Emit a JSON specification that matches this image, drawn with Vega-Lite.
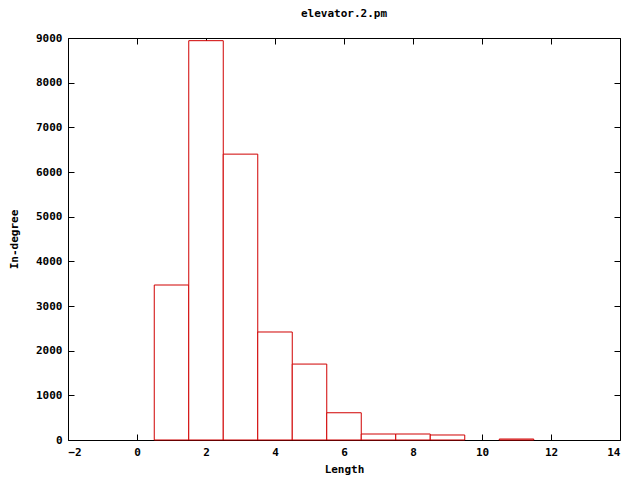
{
  "$schema": "https://vega.github.io/schema/vega-lite/v6.json",
  "width": 552,
  "height": 402,
  "autosize": {"type": "none"},
  "padding": {"left": 68, "top": 38, "right": 20, "bottom": 40},
  "background": "white",
  "title": {"text": "elevator.2.pm", "font": "DejaVu Sans Mono", "fontSize": 11, "fontWeight": "bold", "color": "black", "offset": 13, "anchor": "middle"},
  "config": {
    "view": {"stroke": "black", "strokeWidth": 1},
    "axis": {"labelFont": "DejaVu Sans Mono", "labelFontSize": 11, "labelFontWeight": "bold", "labelColor": "black", "titleFont": "DejaVu Sans Mono", "titleFontSize": 11, "titleFontWeight": "bold", "titleColor": "black", "grid": false, "domain": false, "tickColor": "black", "tickSize": -6, "format": "d"}
  },
  "data": {"values": [
    {"lo": 0.5, "hi": 1.5, "v": 3470},
    {"lo": 1.5, "hi": 2.5, "v": 8940},
    {"lo": 2.5, "hi": 3.5, "v": 6400},
    {"lo": 3.5, "hi": 4.5, "v": 2418},
    {"lo": 4.5, "hi": 5.5, "v": 1700},
    {"lo": 5.5, "hi": 6.5, "v": 610},
    {"lo": 6.5, "hi": 7.5, "v": 134},
    {"lo": 7.5, "hi": 8.5, "v": 134},
    {"lo": 8.5, "hi": 9.5, "v": 112},
    {"lo": 10.5, "hi": 11.5, "v": 22}
  ]},
  "layer": [
    {
      "mark": {"type": "rect", "fill": "white", "stroke": "#d00000", "strokeWidth": 1},
      "encoding": {
        "x": {"field": "lo", "type": "quantitative", "scale": {"domain": [-2, 14], "nice": false, "zero": false}, "axis": {"orient": "bottom", "title": "Length", "values": [-2, 0, 2, 4, 6, 8, 10, 12, 14], "labelPadding": 12, "titlePadding": 6}},
        "x2": {"field": "hi"},
        "y": {"field": "v", "type": "quantitative", "scale": {"domain": [0, 9000], "nice": false}, "axis": {"orient": "left", "title": "In-degree", "values": [0, 1000, 2000, 3000, 4000, 5000, 6000, 7000, 8000, 9000], "labelPadding": 12, "titlePadding": 16}},
        "y2": {"datum": 0}
      }
    },
    {
      "mark": {"type": "rect", "opacity": 0},
      "encoding": {
        "x": {"field": "lo", "type": "quantitative", "axis": {"orient": "top", "title": null, "labels": false, "values": [-2, 0, 2, 4, 6, 8, 10, 12, 14]}},
        "x2": {"field": "hi"},
        "y": {"field": "v", "type": "quantitative", "axis": {"orient": "right", "title": null, "labels": false, "values": [0, 1000, 2000, 3000, 4000, 5000, 6000, 7000, 8000, 9000]}},
        "y2": {"datum": 0}
      }
    }
  ],
  "resolve": {"axis": {"x": "independent", "y": "independent"}}
}
